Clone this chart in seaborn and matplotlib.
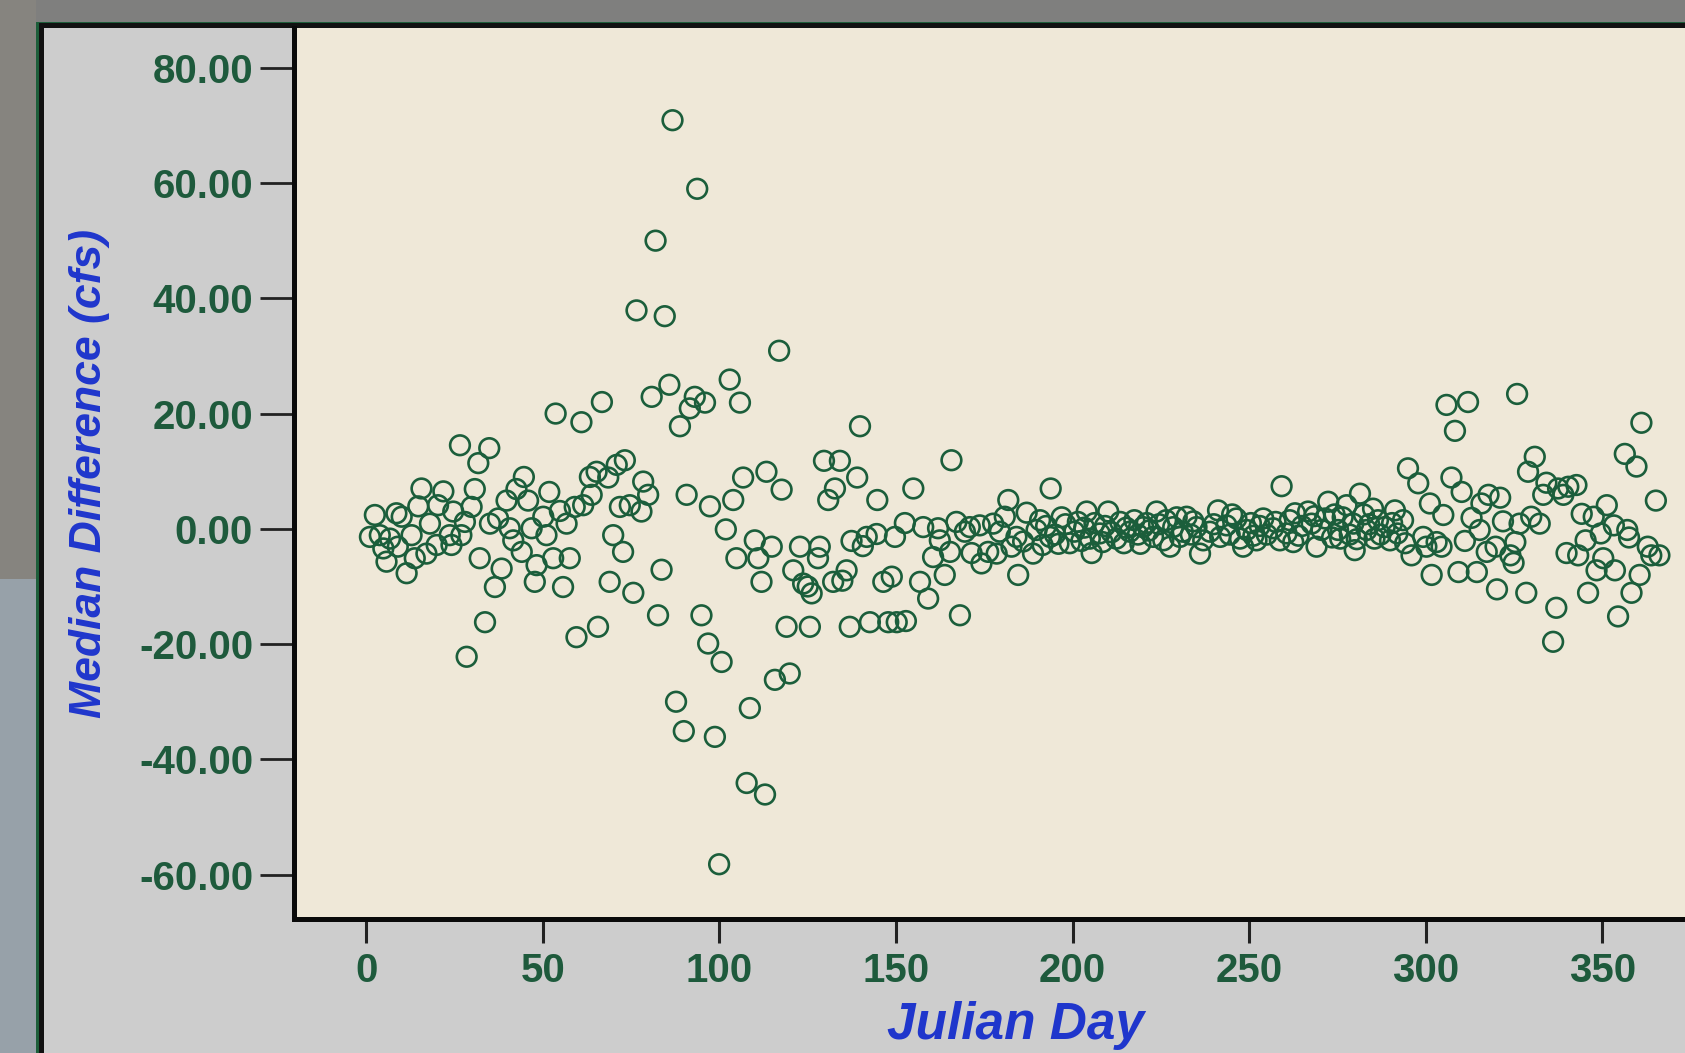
import matplotlib
matplotlib.use("Agg")
import matplotlib.pyplot as plt
import seaborn as sns
import pandas as pd
from matplotlib.patches import Rectangle

# ---------------- data ----------------
days_winter = [1.0, 2.4, 3.8, 4.8, 5.7, 6.7, 8.5, 8.9, 10.0, 11.4, 12.8, 13.7, 14.7, 15.6, 17.0, 18.0,
               19.9, 20.3, 21.8, 23.6, 24.1, 24.6, 26.5, 26.9, 27.9, 28.4, 29.8, 30.7, 31.7, 32.1, 33.6,
               34.8, 35.0, 36.4, 37.3, 38.3, 39.7, 40.6, 41.6, 42.5, 44.0, 44.6, 45.8, 46.8, 47.7, 48.2,
               50.1, 51.0, 51.8, 52.9, 53.6, 54.8, 55.7, 56.7, 57.6, 59.0, 59.5, 60.9, 61.4, 63.3, 63.8,
               65.2, 65.6, 66.7, 68.5, 68.9, 69.9, 70.9, 71.8, 72.7, 73.2, 74.6, 75.6]
diff_winter = [-1.4, 2.4, -1.1, -3.4, -5.7, -1.7, 2.7, -3.1, 2.1, -7.7, -1.1, -5.1, 3.9, 7.0, -4.3, 0.9,
               -2.8, 4.1, 6.5, -1.1, -2.8, 3.0, 14.5, -1.1, 1.2, -22.2, 3.8, 6.9, 11.4, -5.1, -16.2,
               14.0, 0.9, -10.1, 1.8, -6.9, 4.9, 0.1, -2.0, 6.9, -4.0, 9.0, 4.9, 0.1, -9.2, -6.3,
               2.1, -1.1, 6.4, -5.1, 20.0, 3.1, -10.1, 0.9, -5.1, 3.8, -18.8, 18.5, 4.1, 9.0, 5.9,
               9.9, -17.0, 22.0, 8.9, -9.2, -1.1, 11.1, 3.8, -4.0, 11.9, 4.1, -11.1]

days_spring = [76.5, 77.9, 78.4, 79.8, 80.8, 81.9, 82.6, 83.6, 84.5, 85.8, 86.7, 87.7, 88.8, 89.9, 90.7,
               91.6, 93.0, 93.7, 94.9, 95.9, 96.8, 97.3, 98.7, 99.9, 100.6, 101.8, 102.9, 103.9, 104.8,
               105.8, 106.7, 107.7, 108.6, 110.0, 111.0, 111.9, 112.9, 113.3, 114.8, 115.7, 116.9, 117.6,
               119.0, 119.9, 120.9, 122.8, 123.7, 125.0, 125.6, 126.1, 127.9, 128.4, 129.6, 130.8, 132.2,
               132.7, 134.1, 134.8, 136.0, 136.9, 137.4, 139.0, 139.8, 140.6, 141.7, 142.6, 144.5, 144.7,
               146.4, 147.8, 148.8, 149.7, 150.2]
diff_spring = [37.9, 3.0, 8.2, 5.9, 22.9, 50.0, -15.0, -7.1, 36.9, 25.0, 70.9, -30.0, 17.8, -35.1, 5.9,
               20.9, 22.9, 59.0, -15.0, 21.9, -19.9, 3.9, -36.1, -58.2, -23.1, -0.1, 25.9, 5.0, -5.1,
               21.9, 8.9, -44.1, -31.1, -2.0, -5.1, -9.2, -46.1, 9.9, -3.1, -26.2, 30.9, 6.8,
               -17.0, -25.1, -7.2, -3.1, -9.5, -10.0, -17.0, -11.2, -5.1, -3.1, 11.8, 5.0, -9.2,
               7.0, 11.8, -9.0, -7.2, -17.0, -2.1, 8.9, 17.8, -3.0, -1.4, -16.2, -0.9, 5.0,
               -9.2, -16.2, -8.3, -1.4, -16.2]

days_summer = [152.5, 152.8, 154.9, 156.8, 157.7, 159.1, 160.5, 161.9, 162.4, 163.8, 165.3, 165.7, 167.1,
               168.1, 169.5, 170.9, 171.4, 173.7, 174.2, 176.1, 177.5, 178.5, 179.4, 180.8, 181.8, 182.7,
               184.1, 184.6, 186.0, 187.0, 188.8, 189.8, 190.8, 191.5, 192.5, 193.6, 193.8, 195.0, 196.0,
               196.9, 198.0, 199.2, 200.5, 201.5, 202.5, 203.3, 204.0, 204.9, 205.4, 206.2, 207.7, 208.5,
               209.2, 210.1, 211.0, 212.4, 213.5, 214.5, 215.2, 216.2, 217.5, 218.5, 219.2, 220.0, 221.0,
               221.6, 222.8, 223.8, 224.5]
diff_summer = [1.0, -16.0, 7.0, -9.2, 0.3, -12.1, -4.9, 0.1, -2.0, -8.0, -4.0, 11.9, 1.2,
               -15.0, -0.5, 0.3, -4.2, 0.6, -6.0, -4.0, 0.9, -4.3, -0.5, 2.1, 5.0, -3.1,
               -1.4, -8.0, -2.2, 2.8, -4.3, -0.2, 1.5, -2.8, 0.5, -1.4, 7.0, -1.0, -2.6,
               2.0, 0.8, -2.5, -0.5, 1.2, -2.1, 0.2, 3.0, -1.7, -4.2, 1.0, -0.8, -2.3,
               0.5, 3.0, -0.6, -1.7, 1.2, -2.5, 0.2, -0.5, 1.5, -1.0, -2.6, 0.3, 1.0,
               -0.3, -1.4, 3.0, 0.8]

days_autumn = [225.7, 226.5, 227.6, 228.5, 229.5, 230.4, 231.2, 232.3, 233.5, 234.2, 235.1, 236.1, 237.0,
               238.9, 240.0, 241.2, 241.8, 243.6, 244.5, 245.2, 246.4, 247.4, 248.3, 249.3, 250.5, 251.2,
               252.1, 253.0, 254.0, 255.0, 256.8, 257.5, 258.7, 259.2, 260.6, 261.5, 262.5, 263.0, 264.0,
               265.0, 266.7, 267.7, 268.5, 269.1, 270.5, 271.5, 272.4, 273.5, 274.2, 275.2, 275.8, 276.5,
               277.6, 278.5, 279.5, 279.9, 280.5, 281.4, 282.5, 283.3, 284.0, 285.1, 285.5, 286.5, 287.2,
               288.4, 289.9, 290.5, 291.3, 292.0, 293.6, 294.2, 295.0, 296.0, 297.9, 299.3, 300.2, 301.2,
               301.7]
diff_autumn = [-2.0, 1.5, -3.1, 0.3, 2.0, -1.4, -0.5, 2.1, -1.0, 1.3, 0.3, -4.3, -2.0,
               -0.5, 0.8, 3.2, -1.4, 0.6, -1.0, 2.5, 1.8, -1.7, -3.1, -0.2, 1.0, -1.2,
               -2.0, 0.5, 1.8, -1.0, 0.1, 1.2, -2.0, 7.4, -0.8, 1.5, -2.3, 2.7, -1.2,
               0.5, 3.0, 0.9, 2.2, -3.1, -0.2, 1.8, 4.7, -1.5, 2.5, -0.2, -1.7, 2.0,
               4.1, -1.0, 0.9, -3.7, -1.8, 6.1, 2.5, -0.2, 0.8, 3.5, -1.7, 1.5, -1.0,
               0.3, -2.0, 1.0, 3.2, -0.8, 1.5, -2.5, 10.5, -4.6, 7.9, -1.4, -3.1, 4.4,
               -8.0]

days_early_winter = [303.1, 304.5, 305.0, 305.9, 307.3, 308.3, 309.3, 310.2, 311.1, 312.0, 313.0, 314.5,
                     315.3, 315.8, 317.3, 317.8, 319.8, 320.2, 321.1, 321.9, 324.0, 324.9, 325.4, 325.9,
                     326.6, 328.5, 329.0, 329.9, 330.9, 332.3, 333.3, 334.2, 336.1, 337.0, 337.5, 339.0,
                     339.9, 340.4, 342.7, 343.2, 344.2, 345.3, 346.0, 347.6, 348.4, 349.6, 350.3, 351.3,
                     353.3, 353.6, 354.5, 356.4, 357.1, 357.6, 358.3, 359.7, 360.6, 361.1, 362.9, 363.9,
                     365.2, 366.2]
diff_early_winter = [-2.3, -3.1, 2.4, 21.5, 8.9, 17.0, -7.5, 6.4, -2.1, 22.0, 1.9, -7.5,
                     -0.2, 4.4, -4.0, 5.9, -3.1, -10.5, 5.4, 1.3, -4.6, -5.9, -2.3, 23.4,
                     0.9, -11.1, 9.9, 2.1, 12.5, 0.9, 5.9, 8.0, -19.6, -13.7, 7.0, 5.9,
                     -4.2, 7.3, 7.6, -4.6, 2.6, -2.0, -11.1, 2.1, -7.2, -0.8, -5.1, 4.1,
                     0.6, -7.2, -15.2, 13.0, -0.2, -1.5, -11.1, 10.8, -8.0, 18.4, -3.1, -4.6,
                     4.9, -4.6]

x_ticks = [0, 50, 100, 150, 200, 250, 300, 350]
y_ticks = [-60, -40, -20, 0, 20, 40, 60, 80]
x_title = "Julian Day"
y_title = "Median Difference (cfs)"

df = pd.DataFrame({
    "day": days_winter + days_spring + days_summer + days_autumn + days_early_winter,
    "diff": diff_winter + diff_spring + diff_summer + diff_autumn + diff_early_winter,
})

# ---------------- style ----------------
sns.set_theme(style="ticks")
plt.rcParams["font.family"] = ["Liberation Sans", "DejaVu Sans"]
plt.rcParams["axes.unicode_minus"] = False

W, H = 1685, 1053
GREEN_TXT = "#1e5a3c"
BLUE_TXT = "#1f36cc"
MARK = "#1b5e3b"

fig = plt.figure(figsize=(W / 100, H / 100), dpi=100, facecolor="#7f7f7e")
# photo-like background strips
fig.patches.append(Rectangle((0, 0.45), 36 / W, 0.55, transform=fig.transFigure,
                             facecolor="#86847f", edgecolor="none", zorder=-11))
fig.patches.append(Rectangle((0, 0), 36 / W, 0.45, transform=fig.transFigure,
                             facecolor="#97a1a9", edgecolor="none", zorder=-10))
# panel: thin green outer border, black inner border, grey face
fig.patches.append(Rectangle((36 / W, -0.1), 1.2, 1 - 21.5 / H + 0.1, transform=fig.transFigure,
                             facecolor="#1d5e3a", edgecolor="none", zorder=-9))
fig.patches.append(Rectangle((41 / W, -0.1), 1.2, 1 - 25.5 / H + 0.1, transform=fig.transFigure,
                             facecolor="#cdcdcd", edgecolor="#111111", linewidth=3.6, zorder=-8))

ax = fig.add_axes([294 / W, 1 - 919 / H, (W - 294) / W, (919 - 28) / H])
ax.set_zorder(1)
ax.set_facecolor("#efe8d8")

sns.scatterplot(data=df, x="day", y="diff", ax=ax, marker="o", s=200,
                facecolor="none", edgecolor=MARK, linewidth=1.9, zorder=3)

ax.set_xlim(-20.5, 373.45)
ax.set_ylim(-67.7, 86.9)
ax.set_xticks(x_ticks)
ax.set_xticklabels([str(v) for v in x_ticks])
ax.set_yticks(y_ticks)
ax.set_yticklabels([f"{v:.2f}" for v in y_ticks])

ax.tick_params(axis="y", length=24.5, width=2.0, pad=5, labelsize=29,
               labelcolor=GREEN_TXT, color="#222222", direction="out")
ax.tick_params(axis="x", length=17, width=2.2, pad=6.5, labelsize=29,
               labelcolor=GREEN_TXT, color="#222222", direction="out")
for lbl in ax.get_xticklabels() + ax.get_yticklabels():
    lbl.set_fontweight("bold")

for side in ("top", "right"):
    ax.spines[side].set_visible(False)
for side in ("left", "bottom"):
    ax.spines[side].set_linewidth(3.6)
    ax.spines[side].set_color("#0a0a0a")

ax.set_xlabel(x_title, fontsize=37, fontweight="bold", fontstyle="italic", color=BLUE_TXT)
ax.xaxis.label.set_va("baseline")
ax.xaxis.set_label_coords(0.5187, -0.1352)
ax.set_ylabel(y_title, fontsize=32, fontweight="bold", fontstyle="italic", color=BLUE_TXT)
ax.yaxis.label.set_va("center")
ax.yaxis.set_label_coords(-0.1471, 0.5)

fig.savefig("out.png", dpi=100, facecolor=fig.get_facecolor())
